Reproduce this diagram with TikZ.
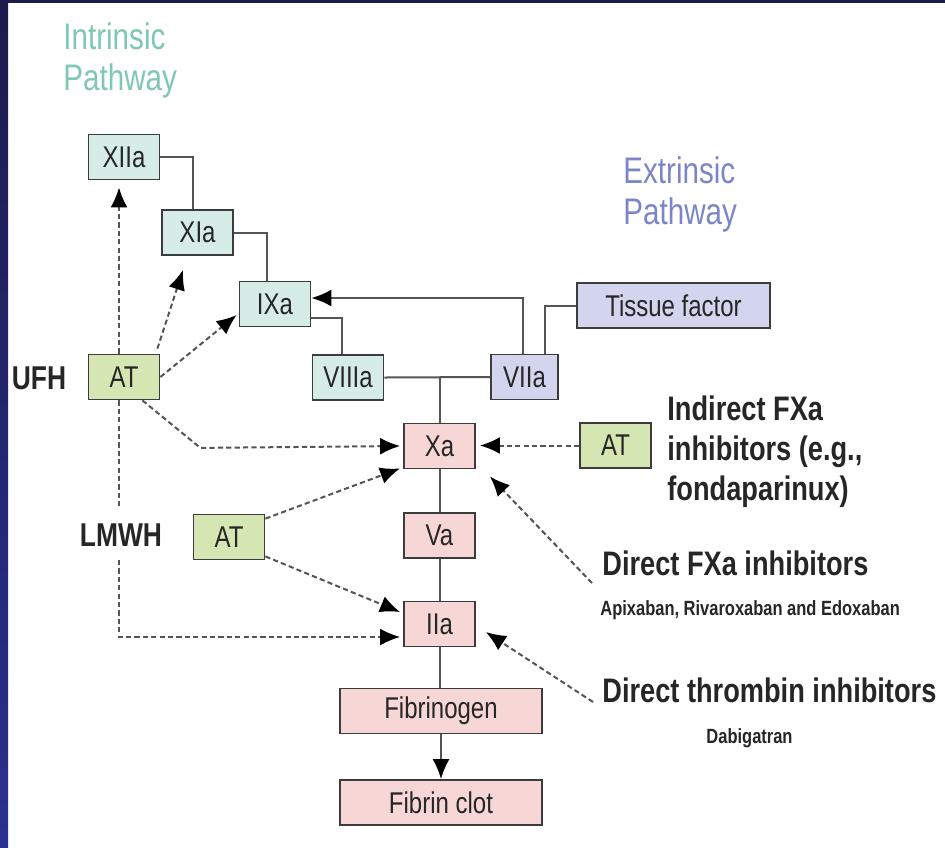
\documentclass[tikz,border=0pt]{standalone}
\usepackage{fontspec}
\usepackage{xcolor}
\usetikzlibrary{arrows.meta,calc}
\setmainfont{Liberation Sans}[FakeStretch=0.8]
\definecolor{intrfill}{HTML}{D5EDE6}
\definecolor{extrfill}{HTML}{D3D5EE}
\definecolor{commfill}{HTML}{F7D6D6}
\definecolor{atfill}{HTML}{D5E6B3}
\definecolor{boxline}{HTML}{3C3C3C}
\definecolor{wire}{HTML}{555555}
\definecolor{intrtext}{HTML}{7FC8B5}
\definecolor{extrtext}{HTML}{7C86C6}
\definecolor{frameblue}{HTML}{2A3190}
\definecolor{framenavy}{HTML}{1D1A4C}

\begin{document}
\begin{tikzpicture}[x=0.5pt, y=-0.5pt,
  every node/.style={font=\fontsize{15}{17}\selectfont, text=black!85},
  factor/.style={draw=boxline, line width=0.9pt, inner sep=0pt, minimum width=35.5pt, minimum height=22.5pt},
  intr/.style={factor, fill=intrfill},
  extr/.style={factor, fill=extrfill},
  comm/.style={factor, fill=commfill},
  atbox/.style={factor, fill=atfill},
  link/.style={draw=wire, line width=1pt},
  tip/.style={-{Latex[length=10pt, width=8.5pt, color=black]}},
  inhib/.style={draw=wire, line width=1pt, dash pattern=on 2.6pt off 1.6pt, tip},
  heading/.style={font=\fontsize{17}{20}\selectfont\bfseries, anchor=west, align=left, inner sep=0pt},
  drug/.style={font=\fontsize{10.3}{12}\selectfont\bfseries, inner sep=0pt},
  pathway/.style={font=\fontsize{18.5}{20.5}\selectfont, anchor=west, align=left, inner sep=0pt}]
% frame
\fill[white] (0,0) rectangle (945,847);
\shade[top color=framenavy, bottom color=frameblue] (0,0) rectangle (8,847);
\fill[framenavy] (0,0) rectangle (945,3);

\node[pathway, text=intrtext] (intrinsic) at (63,60) {Intrinsic\\Pathway};
\node[pathway, text=extrtext] (extrinsic) at (623,194) {Extrinsic\\Pathway};

% Intrinsic pathway
\node[intr] (xiia) at (124,157) {XIIa};
\node[intr] (xia) at (197.5,232.5) {XIa};
\node[intr] (ixa) at (275,304) {IXa};
\node[intr] (viiia) at (348,377.5) {VIIIa};
% Extrinsic pathway
\node[extr, minimum width=96.5pt] (tf) at (673.5,305.5) {Tissue factor};
\node[extr, minimum width=33.5pt] (viia) at (524.5,377) {VIIa};
% Common pathway
\node[comm] (xa) at (439.5,446) {Xa};
\node[comm] (va) at (439.5,535.5) {Va};
\node[comm] (iia) at (439.5,624) {IIa};
\node[comm, minimum width=101pt] (fbg) at (441,711) {Fibrinogen};
\node[comm, minimum width=101pt] (clot) at (441,802.5) {Fibrin clot};
% Antithrombin
\node[atbox] (at1) at (124,377) {AT};
\node[atbox] (at2) at (229,537) {AT};
\node[atbox] (at3) at (615.5,445.5) {AT};

% cascade
\draw[link] (xiia.east) -| ($(xia.north)+(-5,0)$);
\draw[link] (xia.east) -| ($(ixa.north)+(-8,0)$);
\draw[link] ($(ixa.east)+(0,14)$) -| ($(viiia.north)+(-6,0)$);
\draw[link] (tf.west) -| ($(viia.north)+(20,0)$);
\draw[link, tip] ($(viia.north)+(-2,0)$) |- ($(ixa.east)+(0,-6)$);
\draw[link] (viiia.east) -- (viia.west);
\coordinate (junc) at (xa.north |- viia.west);
\draw[link] (junc) -- (xa.north);
\draw[link] (xa) -- (va);
\draw[link] (va) -- (iia);
\draw[link] (iia.south) -- (iia.south |- fbg.north);
\draw[link, tip] (fbg) -- (clot);

% heparins
\draw[inhib] ($(at1.north)+(-5,0)$) -- ($(xiia.south)+(-5,7)$);
\draw[inhib] ($(at1.north east)+(-3,-5)$) -- ($(xia.south)+(-14.5,14)$);
\draw[inhib] (at1.east) -- ($(ixa.west)+(-2,11)$);
\draw[inhib] ($(at1.south east)+(-18,0)$) -- ++(58,47.5) -- ($(xa.west)+(-3,0)$);
\draw[inhib] ($(at1.south)+(-5,0)$) |- ($(iia.west)+(-3,13)$);
\draw[inhib] ($(at2.north east)+(0,5)$) -- ($(xa.south west)+(-3,-1)$);
\draw[inhib] ($(at2.south east)+(0,-4)$) -- ($(iia.west)+(-3,-12)$);
\draw[inhib] (at3.west) -- ($(xa.east |- at3.west)+(4,0)$);

% direct inhibitors
\coordinate (fxafrom) at (592,583);
\coordinate (thrfrom) at (593,702);
\draw[inhib] (fxafrom) -- ($(xa.south east)+(14,7)$);
\draw[inhib] (thrfrom) -- ($(iia.east)+(10,8)$);

\node[font=\fontsize{16.5}{18}\selectfont\bfseries] (ufh) at (39,378) {UFH};
\node[font=\fontsize{16.5}{18}\selectfont\bfseries, fill=white, inner xsep=1pt, inner ysep=7pt] (lmwh) at (121,535) {LMWH};
\node[heading] (indirect) at (667,452) {Indirect FXa\\inhibitors (e.g.,\\fondaparinux)};
\node[heading] (directfxa) at (602,563) {Direct FXa inhibitors};
\node[drug, anchor=west] (xabans) at (600,610) {Apixaban, Rivaroxaban and Edoxaban};
\node[heading] (directthr) at (602,690) {Direct thrombin inhibitors};
\node[drug] (dabi) at (749.5,738) {Dabigatran};
\end{tikzpicture}
\end{document}
